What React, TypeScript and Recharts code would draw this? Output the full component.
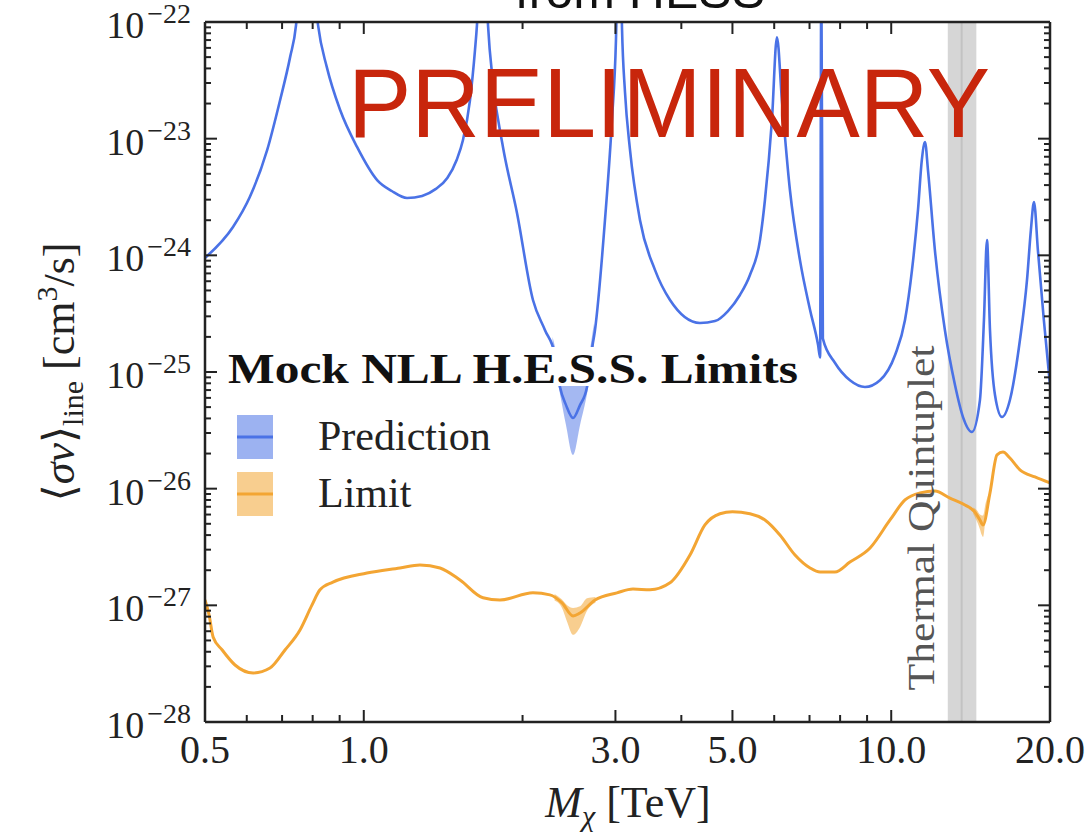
import React from 'react';
import { ComposedChart, Line, Area, XAxis, YAxis, ReferenceArea, ReferenceLine } from 'recharts';

// ---- Prediction (blue) ----
const predMass = [
  0.5, 0.565, 0.608, 0.656, 0.694, 0.725, 0.744, 0.757, 0.78, 0.801,
  0.819, 0.851, 0.902, 0.971, 1.06, 1.13, 1.208, 1.29, 1.37, 1.44,
  1.5, 1.542, 1.59, 1.625, 1.639, 1.66, 1.675, 1.7, 1.72, 1.758,
  1.836, 1.952, 2.093, 2.205, 2.304, 2.355, 2.418, 2.493, 2.57, 2.65,
  2.696, 2.744, 2.866, 2.955, 3.007, 3.03, 3.046, 3.07, 3.087, 3.128,
  3.197, 3.339, 3.565, 3.807, 4.339, 4.633, 4.903, 5.166, 5.397, 5.639,
  5.762, 5.941, 6.072, 6.205, 6.426, 6.714, 7.017, 7.267, 7.331, 7.37,
  7.42, 7.82, 8.351, 8.918, 9.522, 10.17, 10.62, 10.95, 11.24, 11.43,
  11.59, 11.74, 12.1, 12.64, 13.21, 13.68, 14.22, 14.73, 14.99, 15.19,
  15.39, 15.73, 16.22, 16.79, 17.54, 18.09, 18.4, 18.65, 18.97, 19.47,
  20,
];
const predSigma = [
  9.5e-25, 1.75e-24, 3.16e-24, 8.0e-24, 2.14e-23, 5.0e-23, 9.4e-23, 2.5e-22, 1e-21, 2.5e-22,
  9.4e-23, 4.1e-23, 1.76e-23, 8.5e-24, 4.42e-24, 3.56e-24, 3.1e-24, 3.23e-24, 3.71e-24, 4.6e-24,
  6.57e-24, 9.75e-24, 2.14e-23, 5.75e-23, 9.4e-23, 3e-22, 1e-21, 3e-22, 9.4e-23, 3.0e-23,
  8.5e-24, 2.31e-24, 4.14e-25, 2.29e-25, 1.4e-25, 7.44e-26, 5.2e-26, 4.03e-26, 5.2e-26, 7.44e-26,
  1.4e-25, 2.29e-25, 2.0e-24, 1.45e-23, 7e-23, 3e-22, 1e-21, 3e-22, 9e-23, 2.5e-23,
  8.0e-24, 2.01e-24, 7.5e-25, 4.14e-25, 2.63e-25, 2.73e-25, 3.33e-25, 4.57e-25, 6.78e-25, 1.35e-24,
  2.98e-24, 1.45e-23, 7.4e-23, 2.14e-23, 3.63e-24, 9.1e-25, 3.4e-25, 1.7e-25, 1.33e-25, 3e-22,
  1.93e-25, 1.2e-25, 8.5e-26, 7.44e-26, 8.5e-26, 1.4e-25, 2.79e-25, 7.5e-25, 2.45e-24, 6.57e-24,
  9.36e-24, 5.38e-24, 1.11e-24, 2.29e-25, 7.74e-26, 4.11e-26, 3.06e-26, 5.75e-26, 2.79e-25, 1.35e-24,
  2.29e-25, 6.35e-26, 4.11e-26, 5.75e-26, 1.88e-25, 6.15e-25, 1.65e-24, 2.86e-24, 1.11e-24, 2.79e-25,
  7.74e-26,
];
const predBandMass = [2.28, 2.355, 2.418, 2.493, 2.57, 2.65, 2.73];
const predBandLow = [1.4e-25, 6.5e-26, 3.5e-26, 1.95e-26, 3.5e-26, 6.5e-26, 1.6e-25];
const predBandHigh = [2.0e-25, 1.2e-25, 1.0e-25, 9e-26, 1.0e-25, 1.2e-25, 2.6e-25];

// ---- Limit (orange) ----
const limMass = [
  0.5, 0.509, 0.518, 0.539, 0.57, 0.617, 0.664, 0.709, 0.757, 0.797,
  0.826, 0.874, 1.014, 1.171, 1.278, 1.395, 1.522, 1.683, 1.812, 2.093,
  2.254, 2.376, 2.493, 2.57, 2.744, 3.02, 3.239, 3.489, 3.807, 4.154,
  4.434, 4.735, 5.0, 5.397, 5.762, 6.151, 6.57, 7.017, 7.331, 7.82,
  8.351, 9.117, 9.947, 10.62, 11.34, 12.1, 12.92, 13.8, 14.41, 14.73,
  14.93, 15.39, 15.87, 16.29, 16.79, 17.54, 18.73, 20,
];
const limSigma = [
  1.11e-27, 8.26e-28, 5.36e-28, 4.14e-28, 3.08e-28, 2.63e-28, 2.9e-28, 4.14e-28, 6.15e-28, 1.0e-27,
  1.36e-27, 1.58e-27, 1.89e-27, 2.09e-27, 2.22e-27, 2.09e-27, 1.65e-27, 1.16e-27, 1.11e-27, 1.28e-27,
  1.23e-27, 1.05e-27, 8.1e-28, 8.6e-28, 1.11e-27, 1.28e-27, 1.38e-27, 1.36e-27, 1.56e-27, 2.7e-27,
  4.89e-27, 6.1e-27, 6.35e-27, 6.1e-27, 5.39e-27, 4.01e-27, 2.7e-27, 2.09e-27, 1.93e-27, 1.93e-27,
  2.35e-27, 3.1e-27, 5.39e-27, 8.0e-27, 9.2e-27, 9.55e-27, 8.3e-27, 7.24e-27, 6.3e-27, 5.39e-27,
  4.89e-27, 9.2e-27, 1.95e-26, 2.06e-26, 1.83e-26, 1.45e-26, 1.26e-26, 1.12e-26,
];
const limBandMass = [2.3, 2.376, 2.43, 2.493, 2.57, 2.65, 2.75, 14.3, 14.55, 14.73, 14.85, 14.93, 15.1, 15.3];
const limBandLow = [1.1e-27, 9.5e-28, 7.2e-28, 5.6e-28, 6.5e-28, 9e-28, 1.06e-27, 6.1e-27, 5.2e-27, 4.5e-27, 4.0e-27, 3.85e-27, 5.6e-27, 8.0e-27];
const limBandHigh = [1.25e-27, 1.12e-27, 1.0e-27, 9.5e-28, 9.8e-28, 1.15e-27, 1.18e-27, 6.9e-27, 6.5e-27, 6.0e-27, 5.9e-27, 5.9e-27, 7.5e-27, 9.0e-27];

// ---- Thermal quintuplet band ----
const thermalRange = [12.8, 14.5];
const thermalCenter = 13.6;

// ---- Axis ticks ----
const xTickValues = [0.5, 0.6, 0.7, 0.8, 0.9, 1, 2, 3, 4, 5, 6, 7, 8, 9, 10, 20];
const xLabelValues = [0.5, 1, 3, 5, 10, 20];
const xLabelTexts = ['0.5', '1.0', '3.0', '5.0', '10.0', '20.0'];
const yDecades = [1e-28, 1e-27, 1e-26, 1e-25, 1e-24, 1e-23, 1e-22];
const yMinorFactors = [2, 3, 4, 5, 6, 7, 8, 9];
const yTickValues = [
  ...yDecades,
  ...yDecades.slice(0, -1).flatMap((d) => yMinorFactors.map((f) => f * d)),
];

const BLUE = '#4a72e6';
const ORANGE = '#f3a533';
const AXIS = '#222';
const SERIF = '"Liberation Serif", "DejaVu Serif", serif';
const SANS = '"Liberation Sans", Arial, sans-serif';

const legendItems = [
  { name: 'Prediction', color: BLUE },
  { name: 'Limit', color: ORANGE },
];

const predData = predMass.map((m, i) => ({ m, v: predSigma[i] }));
const predBand = predBandMass.map((m, i) => ({ m, band: [predBandLow[i], predBandHigh[i]] }));
const limData = limMass.map((m, i) => ({ m, v: limSigma[i] }));
const limBand1 = limBandMass.slice(0, 7).map((m, i) => ({ m, band: [limBandLow[i], limBandHigh[i]] }));
const limBand2 = limBandMass.slice(7).map((m, i) => ({ m, band: [limBandLow[i + 7], limBandHigh[i + 7]] }));

const labelIndex = (v: number) => xLabelValues.findIndex((l) => Math.abs(l - v) < 1e-9);
const isDecade = (v: number) => {
  const l = Math.log10(v);
  return Math.abs(l - Math.round(l)) < 1e-6;
};

const BottomTick = (props: any) => {
  const { x, y, payload } = props;
  const idx = labelIndex(payload.value);
  const major = idx >= 0;
  return (
    <g>
      <line x1={x} y1={y} x2={x} y2={y - (major ? 12 : 7)} stroke={AXIS} strokeWidth={2} />
      {major && (
        <text x={x} y={y + 41} textAnchor="middle" fontFamily={SERIF} fontSize={40} fill={AXIS}>
          {xLabelTexts[idx]}
        </text>
      )}
    </g>
  );
};

const TopTick = (props: any) => {
  const { x, y, payload } = props;
  const major = labelIndex(payload.value) >= 0;
  return <line x1={x} y1={y} x2={x} y2={y + (major ? 12 : 7)} stroke={AXIS} strokeWidth={2} />;
};

const LeftTick = (props: any) => {
  const { x, y, payload } = props;
  const v = payload.value;
  const major = isDecade(v);
  const e = Math.round(Math.log10(v));
  return (
    <g>
      <line x1={x} y1={y} x2={x + (major ? 12 : 6)} y2={y} stroke={AXIS} strokeWidth={2} />
      {major && (
        <text x={x - 14} y={y + 16} textAnchor="end" fontFamily={SERIF} fontSize={38} fill={AXIS}>
          10
          <tspan dx={3} dy={-15} fontSize={28}>
            {'\u2212' + Math.abs(e)}
          </tspan>
        </text>
      )}
    </g>
  );
};

const RightTick = (props: any) => {
  const { x, y, payload } = props;
  const major = isDecade(payload.value);
  return <line x1={x} y1={y} x2={x - (major ? 12 : 6)} y2={y} stroke={AXIS} strokeWidth={2} />;
};

export default function App() {
  return (
    <div style={{ position: 'absolute', left: 0, top: 0, width: 1086, height: 832, background: '#fff' }}>
      <ComposedChart width={1086} height={832} margin={{ top: 21, right: 35, bottom: 0, left: 0 }}>
        <XAxis
          xAxisId="bottom"
          type="number"
          scale="log"
          dataKey="m"
          domain={[0.5, 20]}
          allowDataOverflow
          ticks={xTickValues}
          interval={0}
          height={110}
          tickSize={0}
          tickMargin={0}
          tickLine={false}
          axisLine={{ stroke: AXIS, strokeWidth: 2.5 }}
          tick={(p: any) => <BottomTick {...p} />}
        />
        <XAxis
          xAxisId="top"
          orientation="top"
          type="number"
          scale="log"
          dataKey="m"
          domain={[0.5, 20]}
          allowDataOverflow
          ticks={xTickValues}
          interval={0}
          height={1}
          tickSize={0}
          tickMargin={0}
          tickLine={false}
          axisLine={{ stroke: AXIS, strokeWidth: 2.5 }}
          tick={(p: any) => <TopTick {...p} />}
        />
        <YAxis
          yAxisId="left"
          type="number"
          scale="log"
          domain={[1e-28, 1e-22]}
          allowDataOverflow
          ticks={yTickValues}
          interval={0}
          width={205}
          tickSize={0}
          tickMargin={0}
          tickLine={false}
          axisLine={{ stroke: AXIS, strokeWidth: 2.5 }}
          tick={(p: any) => <LeftTick {...p} />}
        />
        <YAxis
          yAxisId="right"
          orientation="right"
          type="number"
          scale="log"
          domain={[1e-28, 1e-22]}
          allowDataOverflow
          ticks={yTickValues}
          interval={0}
          width={1}
          tickSize={0}
          tickMargin={0}
          tickLine={false}
          axisLine={{ stroke: AXIS, strokeWidth: 2.5 }}
          tick={(p: any) => <RightTick {...p} />}
        />
        <ReferenceArea
          xAxisId="bottom"
          yAxisId="left"
          x1={thermalRange[0]}
          x2={thermalRange[1]}
          y1={1e-28}
          y2={1e-22}
          fill="#d6d6d6"
          fillOpacity={1}
          stroke="none"
        />
        <ReferenceLine xAxisId="bottom" yAxisId="left" x={thermalCenter} stroke="#c2c2c2" strokeWidth={2} />
        <Area
          xAxisId="bottom"
          yAxisId="left"
          data={limBand1}
          dataKey="band"
          type="monotone"
          stroke="none"
          fill={ORANGE}
          fillOpacity={0.55}
          isAnimationActive={false}
        />
        <Area
          xAxisId="bottom"
          yAxisId="left"
          data={limBand2}
          dataKey="band"
          type="monotone"
          stroke="none"
          fill={ORANGE}
          fillOpacity={0.55}
          isAnimationActive={false}
        />
        <Area
          xAxisId="bottom"
          yAxisId="left"
          data={predBand}
          dataKey="band"
          type="monotone"
          stroke="none"
          fill={BLUE}
          fillOpacity={0.5}
          isAnimationActive={false}
        />
        <Line
          xAxisId="bottom"
          yAxisId="left"
          data={limData}
          dataKey="v"
          type="monotone"
          stroke={ORANGE}
          strokeWidth={3}
          dot={false}
          isAnimationActive={false}
        />
        <Line
          xAxisId="bottom"
          yAxisId="left"
          data={predData}
          dataKey="v"
          type="monotone"
          stroke={BLUE}
          strokeWidth={2.6}
          dot={false}
          isAnimationActive={false}
        />
      </ComposedChart>
      <svg
        width={1086}
        height={832}
        style={{ position: 'absolute', left: 0, top: 0, pointerEvents: 'none' }}
      >
        {/* partially visible title, cut at the top edge as in the reference */}
        <text x={640} y={8} textAnchor="middle" fontFamily={SANS} fontSize={50} fill="#111">
          from HESS
        </text>
        {/* thermal quintuplet label */}
        <text
          x={934}
          y={518}
          transform="rotate(-90, 934, 518)"
          textAnchor="middle"
          fontFamily={SERIF}
          fontSize={38}
          fill="#555"
          textLength={345}
          lengthAdjust="spacingAndGlyphs"
        >
          Thermal Quintuplet
        </text>
        {/* legend */}
        <rect x={222} y={347} width={580} height={39} fill="#fff" />
        <text
          x={228}
          y={383}
          fontFamily={SERIF}
          fontWeight="bold"
          fontSize={42}
          fill="#111"
          textLength={570}
          lengthAdjust="spacingAndGlyphs"
        >
          Mock NLL H.E.S.S. Limits
        </text>
        {legendItems.map((it, i) => (
          <g key={it.name}>
            <rect x={237} y={415 + i * 57} width={36} height={44} fill={it.color} fillOpacity={0.55} />
            <line x1={237} x2={273} y1={437 + i * 57} y2={437 + i * 57} stroke={it.color} strokeWidth={3} />
            <text x={318} y={450 + i * 57} fontFamily={SERIF} fontSize={42} fill="#222">
              {it.name}
            </text>
          </g>
        ))}
        {/* axis labels */}
        <text x={628} y={817} textAnchor="middle" fontFamily={SERIF} fontSize={44} fill="#222">
          <tspan fontStyle="italic">M</tspan>
          <tspan fontStyle="italic" fontSize={30} dy={9}>
            χ
          </tspan>
          <tspan dy={-9}> [TeV]</tspan>
        </text>
        <text
          x={74}
          y={372}
          transform="rotate(-90, 74, 372)"
          textAnchor="middle"
          fontFamily={SERIF}
          fontSize={44}
          fill="#222"
        >
          {'\u27E8'}
          <tspan fontStyle="italic">σv</tspan>
          {'\u27E9'}
          <tspan fontSize={30} dy={9}>
            line
          </tspan>
          <tspan dy={-9}> [cm</tspan>
          <tspan fontSize={30} dy={-17}>
            3
          </tspan>
          <tspan dy={17}>/s]</tspan>
        </text>
        {/* preliminary stamp */}
        <text
          x={348}
          y={137}
          fontFamily={SANS}
          fontSize={98}
          fill="#c8260c"
          textLength={642}
          lengthAdjust="spacingAndGlyphs"
        >
          PRELIMINARY
        </text>
      </svg>
    </div>
  );
}
